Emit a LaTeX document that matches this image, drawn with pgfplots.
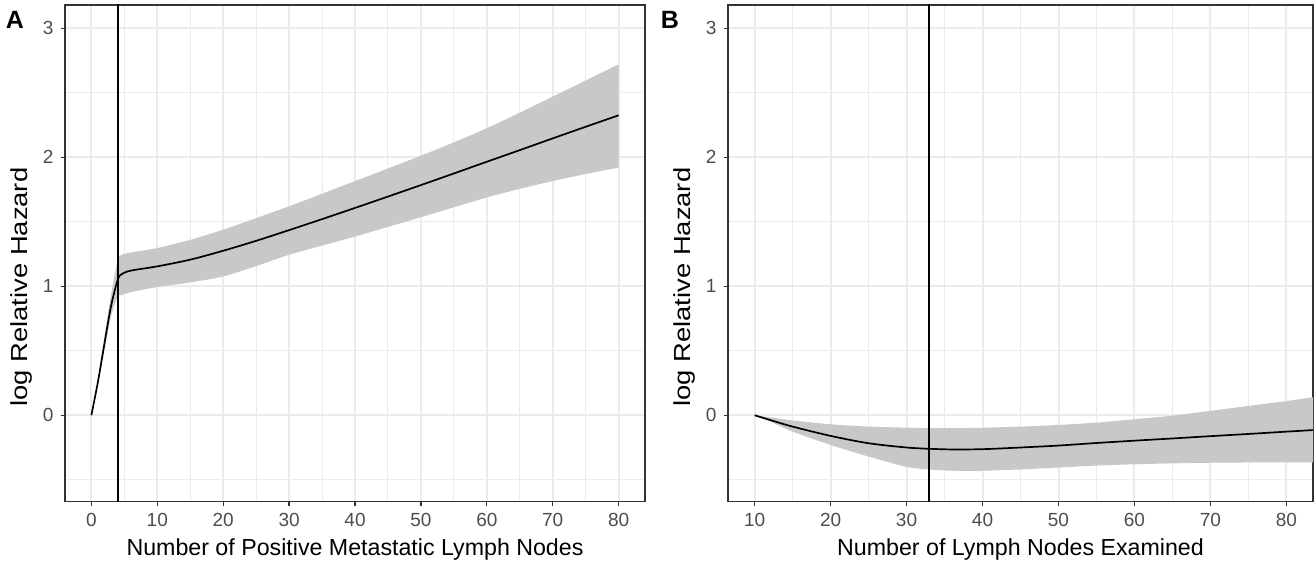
\documentclass[border=0pt]{standalone}
\usepackage{pgfplots}
\pgfplotsset{compat=1.18}
\usepackage{pgfplotstable}
\usepgfplotslibrary{fillbetween}
\usepackage{fontspec}
\setmainfont{Liberation Sans}
\definecolor{gridc}{HTML}{EBEBEB}
\definecolor{border}{HTML}{333333}
\definecolor{ticklab}{HTML}{4D4D4D}
\definecolor{band}{HTML}{C8C8C8}

% x, fit, lower, upper
\pgfplotstableread{
x y lo hi
0 0 0 0
1 0.26 0.24 0.28
2 0.56 0.51 0.61
3 0.85 0.77 0.94
4 1.05 0.92 1.20
4.5 1.09 0.93 1.24
5.5 1.115 0.947 1.257
7 1.13 0.965 1.27
10 1.154 0.994 1.296
15 1.206 1.03 1.36
20 1.275 1.076 1.438
25 1.352 1.156 1.528
30 1.435 1.244 1.62
35 1.52 1.315 1.717
40 1.607 1.385 1.815
45 1.695 1.46 1.913
50 1.784 1.535 2.012
55 1.874 1.612 2.115
60 1.965 1.688 2.225
65 2.055 1.755 2.345
70 2.146 1.815 2.47
75 2.236 1.87 2.595
80 2.325 1.92 2.72
}\posnodes

\pgfplotstableread{
x y lo hi
10 0 0 0
12.5 -0.045 -0.06 -0.02
15 -0.088 -0.127 -0.04
20 -0.16 -0.23 -0.07
25 -0.217 -0.32 -0.088
30 -0.25 -0.40 -0.096
33 -0.26 -0.42 -0.10
36 -0.265 -0.43 -0.10
40 -0.263 -0.43 -0.097
45 -0.25 -0.42 -0.088
50 -0.235 -0.405 -0.075
55 -0.215 -0.39 -0.057
60 -0.197 -0.38 -0.031
65 -0.18 -0.373 -0.003
70 -0.162 -0.368 0.034
75 -0.145 -0.366 0.072
80 -0.127 -0.365 0.11
83.5 -0.115 -0.365 0.14
}\examnodes

\pgfplotsset{
  ggstyle/.style={
    scale only axis,
    width=290pt, height=248.35pt,
    ymin=-0.67, ymax=3.18,
    ytick={0,1,2,3},
    minor ytick={-0.5,0.5,1.5,2.5},
    grid=both,
    major grid style={gridc, line width=1pt},
    minor grid style={gridc, line width=0.5pt},
    axis line style={border, line width=0.7pt},
    tick align=outside,
    major tick length=2.2pt,
    minor tick length=0pt,
    tick style={border, line width=0.6pt},
    xtick pos=bottom, ytick pos=left,
    tick label style={font=\fontsize{9.5}{11}\selectfont, color=ticklab},
    label style={font=\fontsize{11.6}{13}\selectfont, color=black},
    /pgf/number format/assume math mode=true,
    ylabel={\scalebox{1.18}[1]{log Relative Hazard}},
    ylabel style={at={(ticklabel cs:0.432,-1.5pt)}},
    xlabel style={yshift=1pt},
  }
}

\begin{document}
\begin{tikzpicture}
\begin{axis}[ggstyle,
  at={(0pt,0pt)}, anchor=south west,
  xmin=-4, xmax=84,
  xtick={0,10,...,80},
  minor xtick={5,15,...,75},
  xlabel={Number of Positive Metastatic Lymph Nodes},
]
\addplot[name path=hiA, draw=none, smooth] table[x=x, y=hi] {\posnodes};
\addplot[name path=loA, draw=none, smooth] table[x=x, y=lo] {\posnodes};
\addplot[band, draw=none] fill between[of=hiA and loA];
\addplot[black, line width=0.85pt, smooth] table[x=x, y=y] {\posnodes};
\addplot[black, line width=0.9pt] coordinates {(4,-1) (4,4)};
\end{axis}

\begin{axis}[ggstyle,
  at={(331.5pt,0pt)}, anchor=south west,
  width=292.5pt,
  xmin=6.5, xmax=83.5,
  xtick={10,20,...,80},
  minor xtick={15,25,...,75},
  xlabel={Number of Lymph Nodes Examined},
]
\addplot[name path=hiB, draw=none, smooth] table[x=x, y=hi] {\examnodes};
\addplot[name path=loB, draw=none, smooth] table[x=x, y=lo] {\examnodes};
\addplot[band, draw=none] fill between[of=hiB and loB];
\addplot[black, line width=0.85pt, smooth] table[x=x, y=y] {\examnodes};
\addplot[black, line width=0.9pt] coordinates {(33,-1) (33,4)};
\end{axis}

\node[font=\bfseries\fontsize{12.5}{14}\selectfont] at (-25pt,241pt) {A};
\node[font=\bfseries\fontsize{12.5}{14}\selectfont] at (302.5pt,241pt) {B};

\pgfresetboundingbox
\path[use as bounding box] (-32.5pt,-31.65pt) rectangle (625.5pt,250.85pt);
\end{tikzpicture}
\end{document}
